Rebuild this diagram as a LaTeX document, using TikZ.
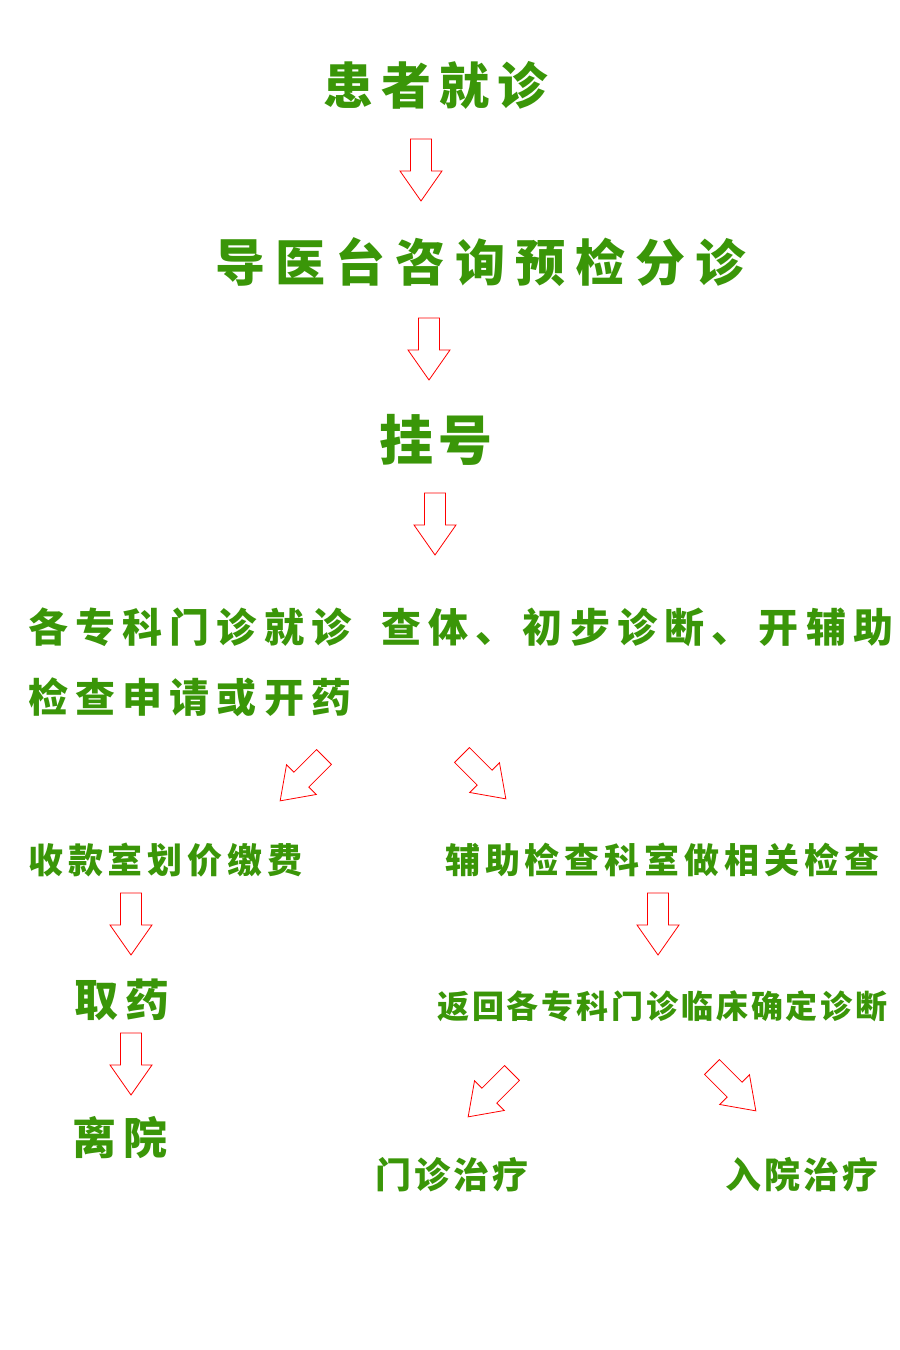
\documentclass[tikz,border=0pt]{standalone}
\usepackage{fontspec}
\newfontfamily\cjk{Noto Sans CJK SC}
\definecolor{leafgreen}{RGB}{58,150,8}
\newcommand\gsize[2]{\fontsize{#1}{#1}\selectfont\addfontfeature{LetterSpace=#2}}
\tikzset{
  steptext/.style={text=leafgreen, inner sep=0pt, font=\cjk\bfseries},
  blockarr/.pic={\draw[red, fill=white, line width=0.8pt]
    (0,-10.5) -- (32,-10.5) -- (32,-21) -- (62,0) -- (32,21) -- (32,10.5) -- (0,10.5) -- cycle;}
}
\begin{document}
\begin{tikzpicture}[x=1pt,y=-1pt]
\useasboundingbox (0,0) rectangle (900,1350);
% main column
\node[steptext] (visit) at (435,85) {\gsize{50}{16}患者就诊};
\node[steptext] (guide) at (480,262) {\gsize{50}{20}导医台咨询预检分诊};
\node[steptext] (regist) at (436,440) {\gsize{54}{10}挂号};
\node[steptext, anchor=north west, align=left,
  font=\cjk\bfseries\fontsize{40}{70}\selectfont\addfontfeature{LetterSpace=18}] (clinic) at (28,608)
  {各专科门诊就诊\hspace{30pt}查体、初步诊断、开辅助\\检查申请或开药};
% left branch
\node[steptext, anchor=west] (pay) at (28,860) {\gsize{35}{14}收款室划价缴费};
\node[steptext] (drug) at (122,1000) {\gsize{44}{14}取药};
\node[steptext] (leave) at (120,1138) {\gsize{44}{14}离院};
% right branch
\node[steptext, anchor=west] (exam) at (445,860) {\gsize{35}{14}辅助检查科室做相关检查};
\node[steptext, anchor=west] (back) at (437,1006) {\gsize{32}{9}返回各专科门诊临床确定诊断};
\node[steptext] (outp) at (452,1175) {\gsize{36}{8}门诊治疗};
\node[steptext] (inp) at (802,1175) {\gsize{36}{8}入院治疗};
% block arrows
\coordinate (t1) at (421,139);
\coordinate (t2) at (429,318);
\coordinate (t3) at (435,493);
\coordinate (t4) at (324,757);
\coordinate (t5) at (462,755);
\coordinate (t6) at (131,893);
\coordinate (t7) at (658,893);
\coordinate (t8) at (131,1033);
\coordinate (t9) at (512,1073);
\coordinate (t10) at (712,1067);
\pic[rotate=-90] at (t1) {blockarr};
\pic[rotate=-90] at (t2) {blockarr};
\pic[rotate=-90] at (t3) {blockarr};
\pic[rotate=-135] at (t4) {blockarr};
\pic[rotate=-45] at (t5) {blockarr};
\pic[rotate=-90] at (t6) {blockarr};
\pic[rotate=-90] at (t7) {blockarr};
\pic[rotate=-90] at (t8) {blockarr};
\pic[rotate=-135] at (t9) {blockarr};
\pic[rotate=-45] at (t10) {blockarr};
\end{tikzpicture}
\end{document}
